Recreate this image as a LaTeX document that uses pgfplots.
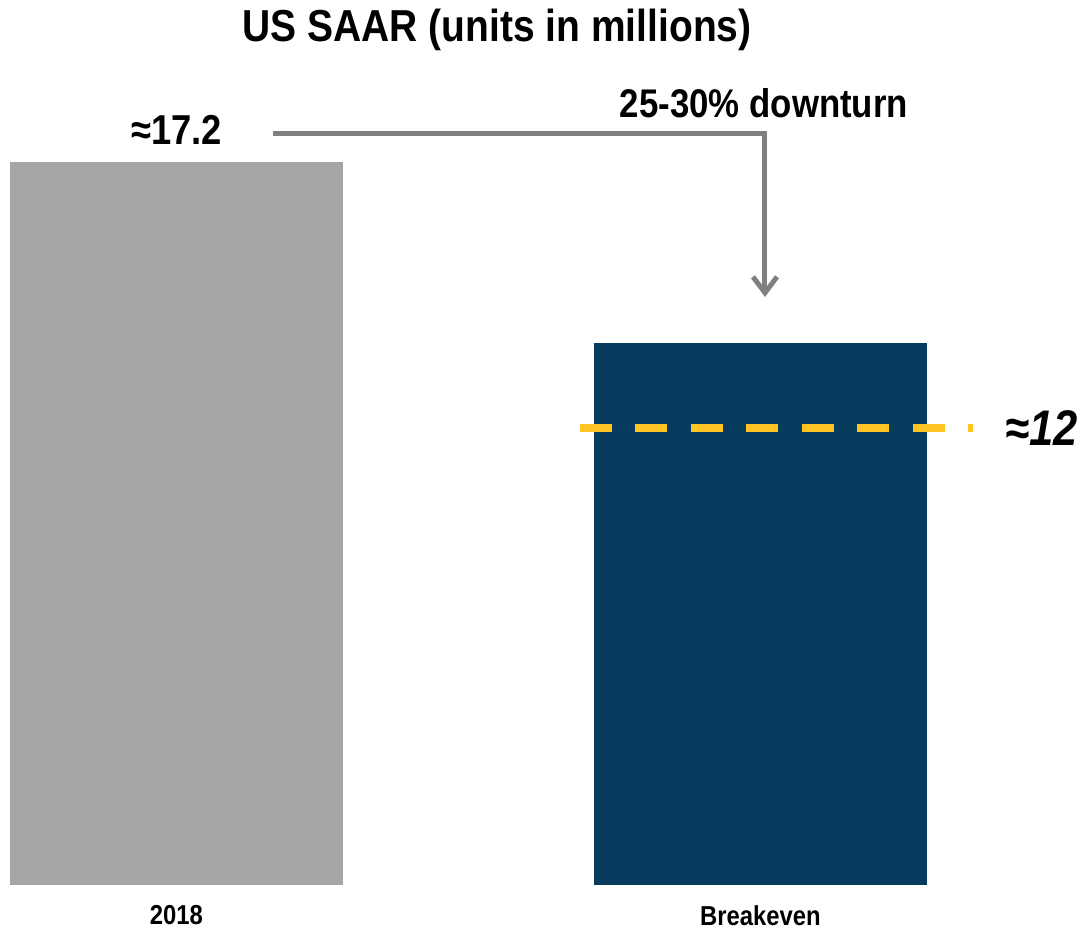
\documentclass[border=0pt]{standalone}
\usepackage{fontspec}
\setmainfont{Liberation Sans}[FakeStretch=0.87]
\usepackage{pgfplots}
\pgfplotsset{compat=1.18}
\usetikzlibrary{arrows.meta}
\definecolor{bargray}{HTML}{A6A6A6}
\definecolor{barblue}{HTML}{073C5F}
\definecolor{dashyellow}{HTML}{FFC423}
\definecolor{arrowgray}{HTML}{808080}
\begin{document}
\begin{tikzpicture}
\begin{axis}[
  at={(0,0)}, anchor=south west,
  scale only axis,
  width=544.5pt, height=442.5pt,
  xmin=-0.30223, xmax=1.56250,
  ymin=0, ymax=21.054,
  axis line style={draw=none},
  tick style={draw=none},
  ytick=\empty,
  xtick={0,1},
  xticklabels={2018,Breakeven},
  xticklabel style={font=\bfseries\fontsize{13.7}{16}\selectfont, anchor=center, yshift=-11pt},
  clip=false,
  ybar, bar width=0.570, bar shift=0pt,
]
\addplot[fill=bargray, draw=none] coordinates {(0,17.2)};
\addplot[fill=barblue, draw=none] coordinates {(1,12.9)};
\addplot[sharp plot, draw=dashyellow, line width=4pt, line cap=butt,
  dash pattern=on 16pt off 11.75pt] coordinates {(0.6909,10.87) (1.3639,10.87)};
\draw[arrowgray, line width=2.5pt, -{Straight Barb[length=8pt,width=12pt,line width=2.5pt]}]
  (axis cs:0.1652,17.87) -- (axis cs:1.0077,17.87) -- (axis cs:1.0077,13.99);
\node[font=\bfseries\fontsize{22.4}{26}\selectfont] at (axis cs:0.549,20.34) {US SAAR (units in millions)};
\node[font=\bfseries\fontsize{20}{24}\selectfont] at (axis cs:1.006,18.60) {25-30\% downturn};
\node[font=\bfseries\fontsize{20.9}{24}\selectfont] at (axis cs:0,17.96) {≈17.2};
\node[font=\bfseries\itshape\fontsize{25}{28}\selectfont, anchor=west, inner sep=0pt] at (axis cs:1.4187,10.87) {≈12};
\end{axis}
\pgfresetboundingbox
\path (0,-25pt) rectangle (544.5pt,442.5pt);
\end{tikzpicture}
\end{document}
